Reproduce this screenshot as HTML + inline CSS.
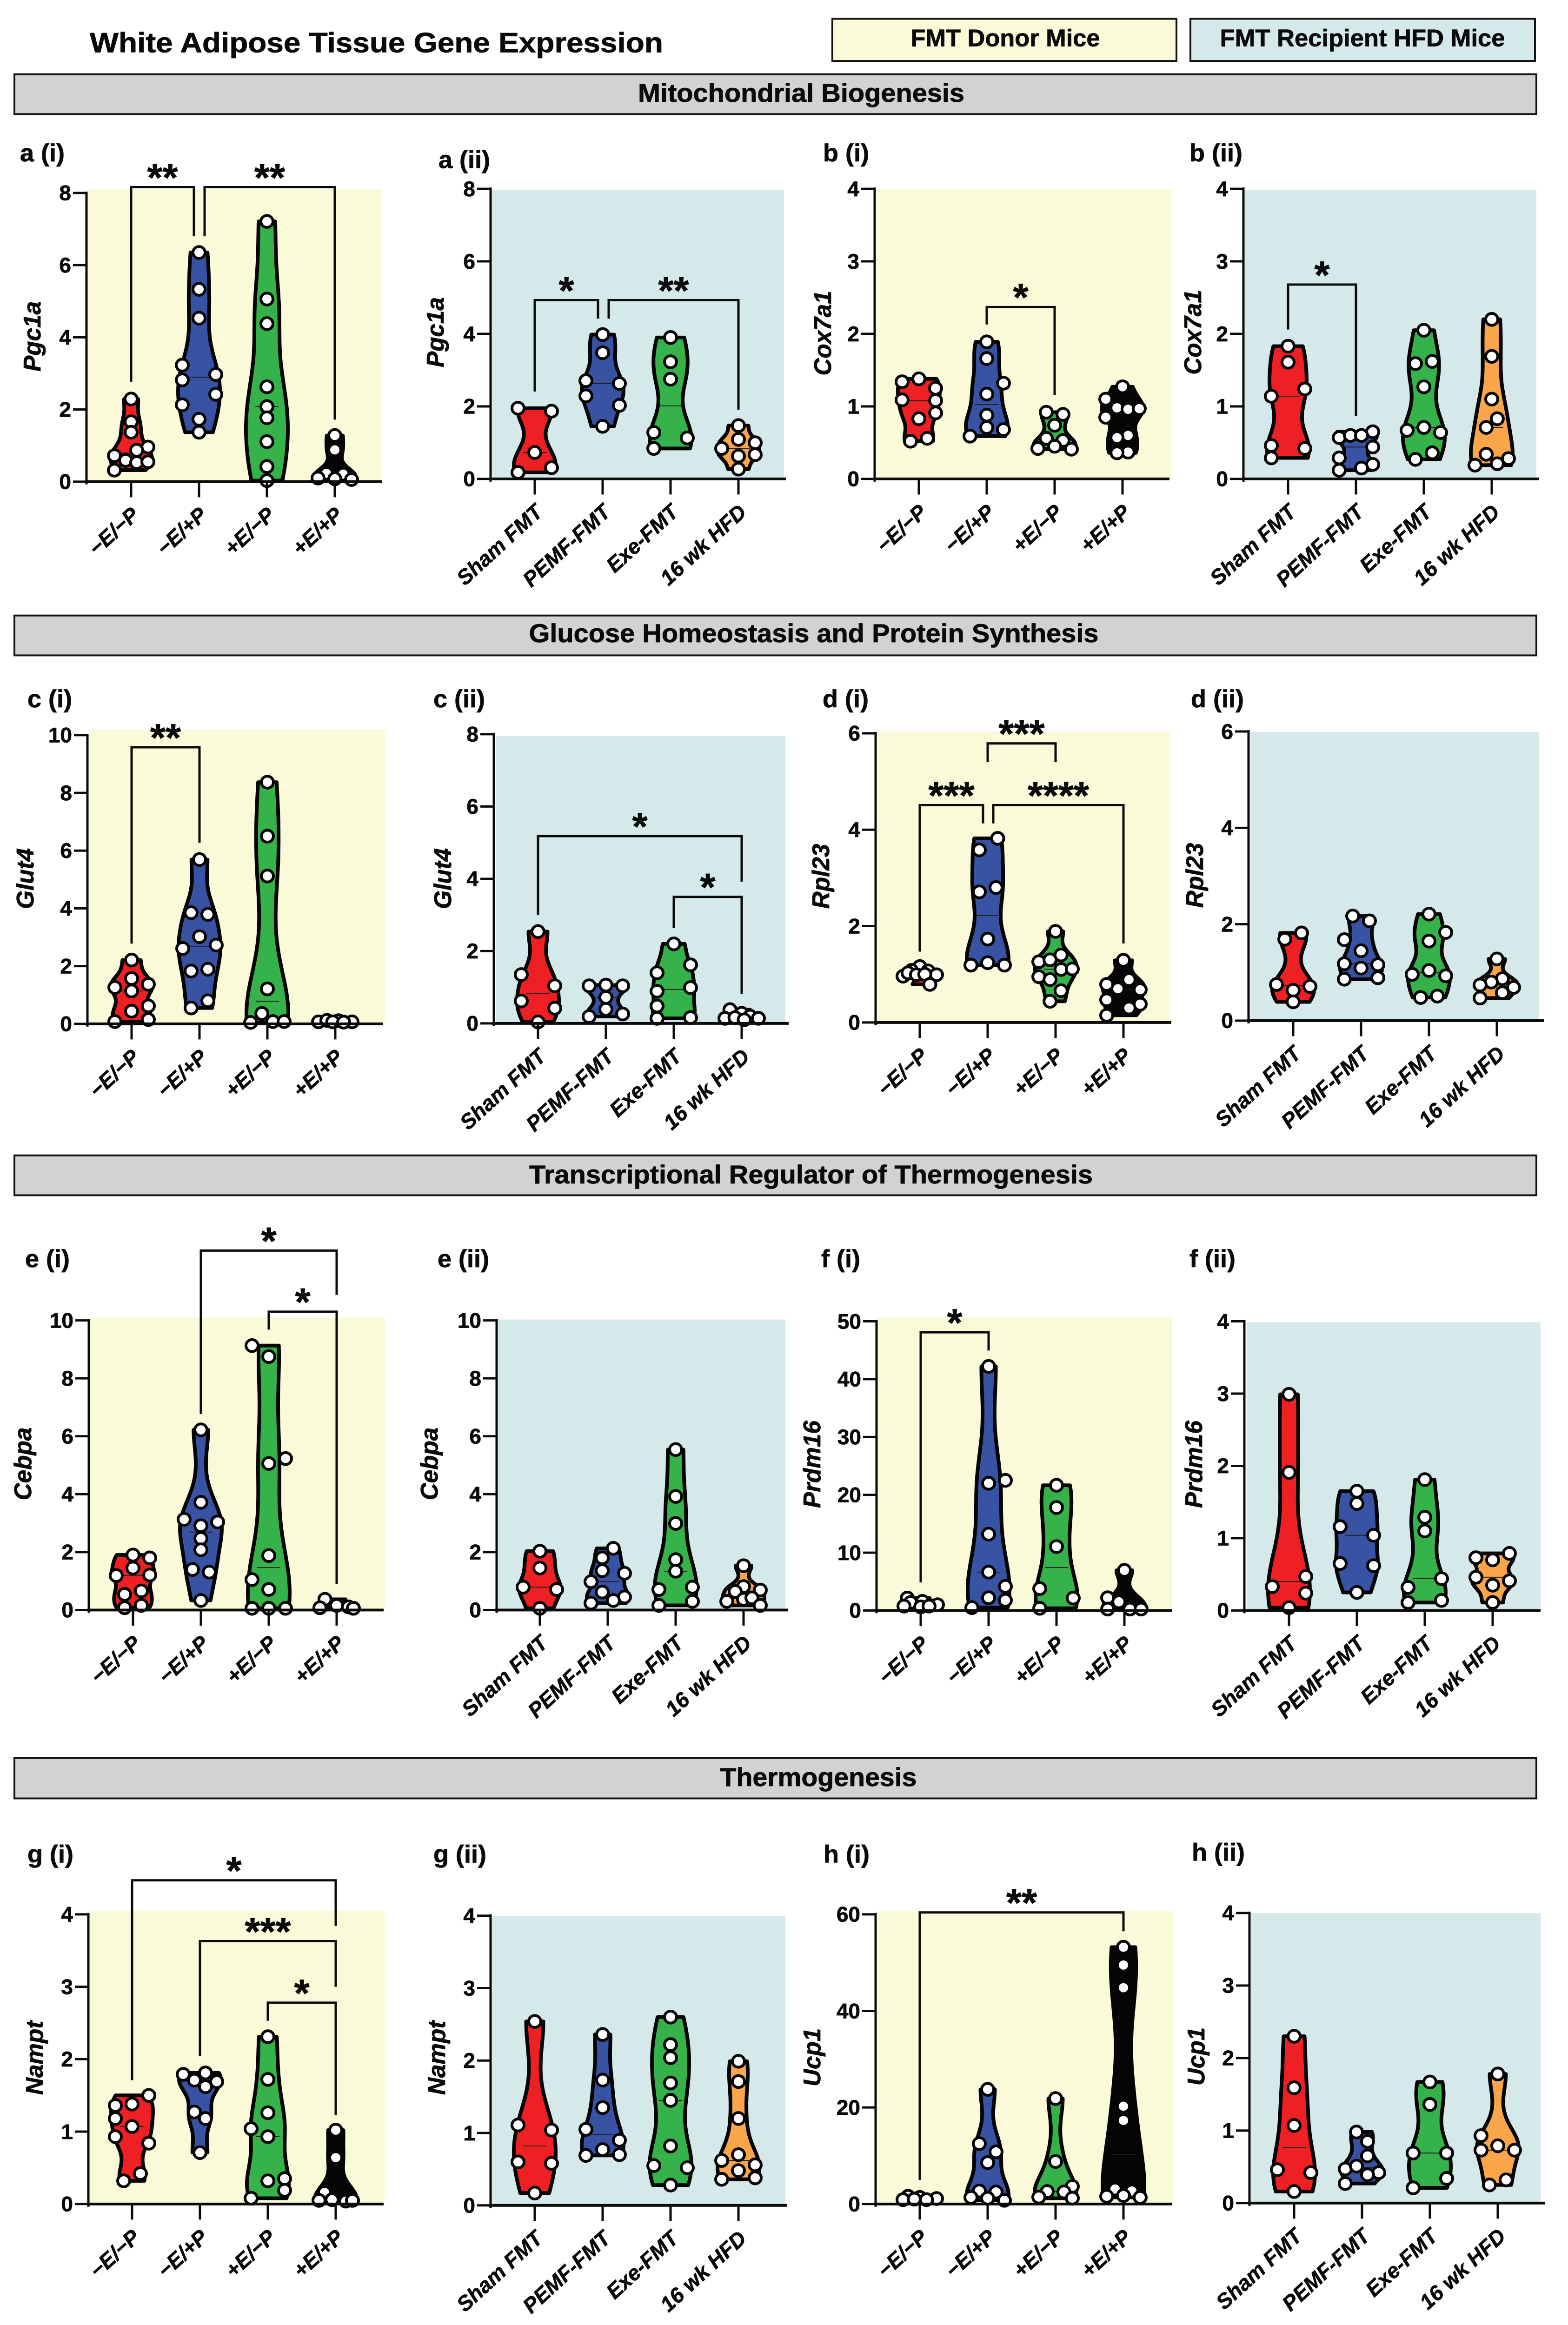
<!DOCTYPE html>
<html lang="en">
<head>
<meta charset="utf-8">
<title>White Adipose Tissue Gene Expression</title>
<style>
html,body{margin:0;padding:0;background:#fff;width:100%;height:100%;overflow:hidden}
svg{display:block;overflow:hidden;width:100vw;height:100vh}
text{font-family:"Liberation Sans",sans-serif;font-weight:700;fill:#0a0a0a;stroke:#0a0a0a;stroke-width:.8px}
</style>
</head>
<body>
<svg id="figure" xmlns="http://www.w3.org/2000/svg" viewBox="0 0 3372 5073" preserveAspectRatio="none">
<rect x="0" y="0" width="3372" height="5073" fill="#ffffff"/>
<text x="193" y="114" font-size="61" textLength="1233" lengthAdjust="spacingAndGlyphs">White Adipose Tissue Gene Expression</text>
<g><rect x="1790" y="41" width="740" height="92" fill="#fafad9" stroke="#111" stroke-width="4"/><text x="2162" y="101" font-size="53" text-anchor="middle" textLength="407" lengthAdjust="spacingAndGlyphs">FMT Donor Mice</text></g>
<g><rect x="2560" y="41" width="741" height="92" fill="#d5e8ea" stroke="#111" stroke-width="4"/><text x="2930" y="101" font-size="53" text-anchor="middle" textLength="613" lengthAdjust="spacingAndGlyphs">FMT Recipient HFD Mice</text></g>
<g><rect x="31" y="162" width="3273" height="87" fill="#d1d2d4" stroke="#111" stroke-width="4"/><text x="1723" y="222" font-size="56" text-anchor="middle" textLength="702" lengthAdjust="spacingAndGlyphs">Mitochondrial Biogenesis</text></g>
<g><rect x="31" y="1343" width="3273" height="87" fill="#d1d2d4" stroke="#111" stroke-width="4"/><text x="1750" y="1401" font-size="56" text-anchor="middle" textLength="1225" lengthAdjust="spacingAndGlyphs">Glucose Homeostasis and Protein Synthesis</text></g>
<g><rect x="31" y="2521" width="3273" height="87" fill="#d1d2d4" stroke="#111" stroke-width="4"/><text x="1744" y="2582" font-size="56" text-anchor="middle" textLength="1212" lengthAdjust="spacingAndGlyphs">Transcriptional Regulator of Thermogenesis</text></g>
<g><rect x="31" y="3836" width="3273" height="88" fill="#d1d2d4" stroke="#111" stroke-width="4"/><text x="1760" y="3897" font-size="56" text-anchor="middle" textLength="423" lengthAdjust="spacingAndGlyphs">Thermogenesis</text></g>
</svg>
<script>
const donorCategories=['−E/−P','−E/+P','+E/−P','+E/+P'];
const recipientCategories=['Sham FMT','PEMF-FMT','Exe-FMT','16 wk HFD'];

const ticks0to8=[0,2,4,6,8];
const ticks0to4=[0,1,2,3,4];
const ticks0to10=[0,2,4,6,8,10];
const ticks0to6=[0,2,4,6];
const ticks0to50=[0,10,20,30,40,50];
const ticks0to60=[0,20,40,60];

/* Expression values per group; swarm = sideways slot of each dot in symbol widths */
const pgc1aDonorValues=[[2.29,1.66,1.37,.96,.87,.72,.59,.53,.55,.32],[6.35,5.33,4.53,3.23,2.97,2.82,2.42,2.13,1.73,1.37],[7.21,5.06,4.38,2.63,2.08,1.77,1.11,.42,.03],[1.28,.88,.23,.21,.1,.08,.06]];
const pgc1aDonorSwarm=[[0,0,0,1,.33,-1,-.33,.33,1,-1],[0,0,0,-1,1,-1,1,-1,0,0],[0,0,0,0,0,0,0,0,0],[0,0,-.5,.5,-1,0,1]];
const pgc1aDonorBrackets=[[0,1,8.16,2.77,6.8,'**',0,-11],[1,3,8.16,6.8,1.72,'**',12,0]];

const pgc1aRecipientValues=[[1.95,1.87,.73,.31,.18],[3.98,3.48,2.71,2.63,2.29,2.03,1.45],[3.9,3.23,2.75,1.28,1.13,.84],[1.47,1.09,1,.84,.67,.63,.27]];
const pgc1aRecipientSwarm=[[-1,1,0,1,-1],[0,0,-1,1,-1,1,0],[0,0,0,-1,1,-1],[0,0,1,-1,1,0,0]];
const pgc1aRecipientBrackets=[[0,1,4.93,2.41,4.42,'*',0,-10],[1,3,4.93,4.42,1.91,'**',13,0]];

const cox7a1DonorValues=[[1.38,1.34,1.25,1.09,1.08,.91,.83,.52,.56],[1.89,1.66,1.32,1.17,.88,.71,.68,.59],[.92,.89,.74,.56,.53,.45,.42,.41],[1.27,1.1,.98,.96,.97,.85,.6,.57,.37,.36]];
const cox7a1DonorSwarm=[[0,-1,1,-1,1,1,0,-.5,.5],[0,0,1,0,0,0,1,-1],[-.5,.5,0,-.5,.5,0,-1,1],[0,-1,-.33,.33,1,-1,.33,-.33,.33,-.33]];
const cox7a1DonorBrackets=[[1,2,2.37,2.13,1.16,'*',0,0]];

const cox7a1RecipientValues=[[1.83,1.61,1.24,1.14,.46,.42,.29],[.65,.57,.6,.6,.44,.29,.2,.15,.12],[2.05,1.59,1.62,1.27,.67,.71,.64,.36,.27],[2.2,1.69,1.1,.83,.71,.34,.28,.19,.21]];
const cox7a1RecipientSwarm=[[0,0,1,-1,-1,1,-1],[1,-1,-.33,.33,1,-1,1,.33,-1],[0,-.5,.5,0,-1,0,1,.5,-.5],[0,0,0,.33,-.33,-.33,1,-1,.33]];
const cox7a1RecipientBrackets=[[0,1,2.68,2.06,.865,'*',0,0]];

const glut4DonorValues=[[2.21,1.57,1.26,1.37,1.14,.62,.44,.08,.15],[5.69,3.85,3.79,3.02,2.73,2.61,1.89,1.83,.8,.55],[8.37,6.5,5.12,1.21,.36,.05,.08,.08],[.07,.12,.11,.07,.07,.06]];
const glut4DonorSwarm=[[0,0,-1,1,0,1,0,-1,1],[0,-.5,.5,0,1,-1,.5,-.5,.5,-.5],[0,0,0,0,-.33,-1,.33,1],[-1,-.5,.2,1,-.15,.5]];
const glut4DonorBrackets=[[0,1,9.58,2.78,6.27,'**',0,0]];

const glut4RecipientValues=[[2.54,1.35,1.04,.62,.42,.04],[1.04,1.06,1.04,.72,.39,.26,.19],[2.2,1.62,1.4,.99,.89,.48,.16,.14],[.38,.28,.2,.14,.16,.1,.14]];
const glut4RecipientSwarm=[[0,-1,1,-1,1,0],[-1,0,1,0,0,1,-1],[0,1,-1,1,-1,-1,1,-1],[-.7,0,.5,-1,-.4,.15,1]];
const glut4RecipientBrackets=[[0,3,5.18,3,3.92,'*',0,0],[2,3,3.5,2.64,.81,'*',0,0]];

const rpl23DonorValues=[[1.16,1.08,1.07,.96,.99,1.03,.99,1,.79],[3.82,3.58,2.8,2.71,1.73,1.24,1.19,1.19],[1.89,1.4,1.26,1.3,1.1,1.11,.95,.89,.66,.44],[1.29,.89,.79,.7,.68,.47,.38,.3,.15]];
const rpl23DonorSwarm=[[0,-.5,.5,-1,1,-.7,-.2,.3,.6],[.6,-.5,.5,-.5,0,0,-1,1],[0,.33,-1,-.33,.33,1,-1,-.33,.33,-.33],[0,.33,-1,-.33,1,-1,1,.33,-1]];
const rpl23DonorBrackets=[[1,2,5.79,5.4,5.4,'***',0,0],[0,1,4.51,1.47,4.13,'***',0,-10],[1,3,4.51,4.13,1.64,'****',12,0]];

const rpl23RecipientValues=[[1.82,1.69,.75,.71,.63,.39],[2.17,2.07,1.68,1.45,1.18,1.16,1.09,.86,.89],[2.21,1.83,1.65,1.04,.96,.93,.48,.51],[1.28,.87,.8,.74,.69,.58,.47]];
const rpl23RecipientSwarm=[[.5,-.5,-1,1,0,0],[-.5,.5,-1,0,-1,1,0,-1,1],[0,1,0,0,-1,1,-.5,.5],[0,.33,-.33,-1,1,.33,-1]];
const rpl23RecipientBrackets=[];

const cebpaDonorValues=[[1.9,1.8,1.45,1.19,1.21,.66,.54,.16,.08],[6.22,3.72,3.13,3.04,2.91,2.47,2.08,1.4,1.31,.33],[9.13,8.75,5.23,5.06,1.88,1.05,.71,.06,.06,.06],[.37,.16,.11,.08,.06]];
const cebpaDonorSwarm=[[0,1,0,-1,1,.5,-.5,.5,-.5],[0,0,-1,1,0,0,0,-.5,.5,0],[-1,0,1,0,0,-1,0,-1,0,1],[-.7,0,.7,-1,1]];
const cebpaDonorBrackets=[[1,3,12.41,6.77,10.88,'*',0,0],[2,3,10.3,9.68,.9,'*',0,0]];

const cebpaRecipientValues=[[2.03,1.45,.79,.71,.06],[2.13,1.8,1.36,1.27,.98,.62,.45,.33,.24],[5.54,3.92,2.99,1.74,1.34,.71,.79,.3,.16],[1.53,.81,.3,.64,.69,.37,.42,.16]];
const cebpaRecipientSwarm=[[0,0,-1,1,0],[.33,-.33,-.33,1,-1,-.33,1,.33,-1],[0,0,0,0,0,-1,1,1,-1],[0,0,-1,-.5,1,0,.5,1]];
const cebpaRecipientBrackets=[];

const prdm16DonorValues=[[2.15,1.39,1.58,1,.76,.63,.76],[42.2,22.5,22,13.2,6.63,4.17,2.2,1.77,.5],[21.65,17.8,11.05,3.79,2.15,.38],[6.94,2.2,1.5,.25,.25,.25]];
const prdm16DonorSwarm=[[-.8,-.6,.1,1,-1,0,.5],[0,1,0,0,0,1,0,1,-1],[0,0,0,-1,1,-1],[0,-1,-.33,-1,.33,1]];
const prdm16DonorBrackets=[[0,1,48.1,4.86,44.95,'*',0,0]];

const prdm16RecipientValues=[[2.99,1.91,.47,.33,.24,.04],[1.65,1.48,1.16,1.04,.65,.62,.25],[1.81,1.29,1.1,.44,.32,.14,.11],[.73,.79,.7,.46,.41,.35,.11]];
const prdm16RecipientSwarm=[[0,0,1,-1,1,0],[0,0,-1,1,-1,1,0],[0,0,0,1,-1,1,-1],[-1,1,0,-1,1,0,0]];
const prdm16RecipientBrackets=[];

const namptDonorValues=[[1.5,1.36,1.38,1.18,1.07,.93,.84,.42,.32],[1.79,1.81,1.71,1.69,1.62,1.27,1.18,.71],[2.31,1.72,1.26,1.04,.93,.35,.32,.19,.08],[1.02,.64,.16,.05,.06,.04,.05]];
const namptDonorSwarm=[[1,-1,0,-1,0,-1,1,.5,-.5],[-1,.33,-.33,1,.33,-.33,.33,0],[0,0,0,-1,0,1,0,1,-1],[0,0,-.67,-1,-.22,.6,1]];
const namptDonorBrackets=[[0,3,4.47,1.71,3.84,'*',0,0],[1,3,3.63,2.04,3,'***',0,0],[2,3,2.78,2.53,1.23,'*',0,0]];

const namptRecipientValues=[[2.54,1.11,1.04,.6,.58,.17],[2.36,1.73,1.35,1.05,.9,.77,.69,.7],[2.6,2.22,2.04,1.69,1.45,.82,.55,.52,.28],[1.99,1.71,1.2,.7,.62,.56,.48,.36,.38]];
const namptRecipientSwarm=[[0,-1,1,-1,1,0],[0,0,0,-1,1,0,-1,1],[0,0,0,0,0,0,-1,1,0],[0,0,0,0,-1,1,0,-1,1]];
const namptRecipientBrackets=[];

const ucp1DonorValues=[[1.6,1.37,.9,1.14,1,.9],[23.75,12.5,10.8,8.57,2.7,2.5,1.37,1.2,.76],[21.85,8.8,3.64,2.58,2.5,1.44,1.2],[53.2,49.5,44.8,20.26,17.3,3.1,2.7,1.75,1.6,1.37]];
const ucp1DonorSwarm=[[-.7,0,-1,1,-.33,.4],[0,-.5,.5,0,-.5,.5,-1,0,1],[0,0,1,-.5,.5,-1,1],[0,0,0,0,0,-.5,.5,0,-1,1]];
const ucp1DonorBrackets=[[0,3,60.4,5,56.5,'**',0,0]];

const ucp1RecipientValues=[[2.3,1.59,1.07,.46,.42,.16],[.98,.85,.65,.47,.51,.42,.39,.27],[1.67,1.36,.69,.69,.34,.21],[1.78,.93,.79,.73,.73,.32,.25]];
const ucp1RecipientSwarm=[[0,0,0,-1,1,0],[-.33,.33,.33,-1,-.33,1,.33,-1],[0,0,-1,1,1,-1],[0,-1,0,-1,1,.5,-.5]];
const ucp1RecipientBrackets=[];

const donorFills=['#ee2024','#3953a4','#35b34a','#050505'];
const recipientFills=['#ee2024','#3953a4','#35b34a','#f9a54a'];

const panels=[
{id:'a-i',label:'a (i)',gene:'Pgc1a',cats:donorCategories,fills:donorFills,vals:pgc1aDonorValues,swarm:pgc1aDonorSwarm,br:pgc1aDonorBrackets,ticks:ticks0to8,ax:186,top:421,y0:1051,bg:[190,412,822],x0:282,xEnd:822,lab:[43,352],ttl:[87,734],shade:'#fafad9'},
{id:'a-ii',label:'a (ii)',gene:'Pgc1a',cats:recipientCategories,fills:recipientFills,vals:pgc1aRecipientValues,swarm:pgc1aRecipientSwarm,br:pgc1aRecipientBrackets,ticks:ticks0to8,ax:1055,top:412,y0:1045,bg:[1058,414,1686],x0:1150,xEnd:1690,lab:[943,367],ttl:[954,725],shade:'#d5e8ea'},
{id:'b-i',label:'b (i)',gene:'Cox7a1',cats:donorCategories,fills:donorFills,vals:cox7a1DonorValues,swarm:cox7a1DonorSwarm,br:cox7a1DonorBrackets,ticks:ticks0to4,ax:1881,top:412,y0:1045,bg:[1885,412,2519],x0:1976,xEnd:2515,lab:[1770,352],ttl:[1787,727],shade:'#fafad9'},
{id:'b-ii',label:'b (ii)',gene:'Cox7a1',cats:recipientCategories,fills:recipientFills,vals:cox7a1RecipientValues,swarm:cox7a1RecipientSwarm,br:cox7a1RecipientBrackets,ticks:ticks0to4,ax:2674,top:412,y0:1045,bg:[2678,414,3304],x0:2770,xEnd:3310,lab:[2558,352],ttl:[2583,725],shade:'#d5e8ea'},
{id:'c-i',label:'c (i)',gene:'Glut4',cats:donorCategories,fills:donorFills,vals:glut4DonorValues,swarm:glut4DonorSwarm,br:glut4DonorBrackets,ticks:ticks0to10,ax:188,top:1604,y0:2234,bg:[191,1592,829],x0:283,xEnd:824,lab:[59,1543],ttl:[72,1917],shade:'#fafad9'},
{id:'c-ii',label:'c (ii)',gene:'Glut4',cats:recipientCategories,fills:recipientFills,vals:glut4RecipientValues,swarm:glut4RecipientSwarm,br:glut4RecipientBrackets,ticks:ticks0to8,ax:1062,top:1602,y0:2233,bg:[1067,1606,1689],x0:1157,xEnd:1696,lab:[932,1543],ttl:[970,1917],shade:'#d5e8ea'},
{id:'d-i',label:'d (i)',gene:'Rpl23',cats:donorCategories,fills:donorFills,vals:rpl23DonorValues,swarm:rpl23DonorSwarm,br:rpl23DonorBrackets,ticks:ticks0to6,ax:1883,top:1600,y0:2231,bg:[1887,1596,2516],x0:1978,xEnd:2519,lab:[1769,1543],ttl:[1783,1912],shade:'#fafad9'},
{id:'d-ii',label:'d (ii)',gene:'Rpl23',cats:recipientCategories,fills:recipientFills,vals:rpl23RecipientValues,swarm:rpl23RecipientSwarm,br:rpl23RecipientBrackets,ticks:ticks0to6,ax:2685,top:1596,y0:2227,bg:[2689,1598,3310],x0:2781,xEnd:3320,lab:[2561,1543],ttl:[2587,1910],shade:'#d5e8ea'},
{id:'e-i',label:'e (i)',gene:'Cebpa',cats:donorCategories,fills:donorFills,vals:cebpaDonorValues,swarm:cebpaDonorSwarm,br:cebpaDonorBrackets,ticks:ticks0to10,ax:191,top:2881,y0:3513,bg:[193,2875,829],x0:286,xEnd:825,lab:[54,2765],ttl:[67,3194],shade:'#fafad9'},
{id:'e-ii',label:'e (ii)',gene:'Cebpa',cats:recipientCategories,fills:recipientFills,vals:cebpaRecipientValues,swarm:cebpaRecipientSwarm,br:cebpaRecipientBrackets,ticks:ticks0to10,ax:1068,top:2881,y0:3513,bg:[1071,2879,1689],x0:1161,xEnd:1695,lab:[941,2765],ttl:[941,3194],shade:'#d5e8ea'},
{id:'f-i',label:'f (i)',gene:'Prdm16',cats:donorCategories,fills:donorFills,vals:prdm16DonorValues,swarm:prdm16DonorSwarm,br:prdm16DonorBrackets,ticks:ticks0to50,ax:1885,top:2883,y0:3514,bg:[1889,2875,2521],x0:1980,xEnd:2521,lab:[1766,2765],ttl:[1764,3195],shade:'#fafad9'},
{id:'f-ii',label:'f (ii)',gene:'Prdm16',cats:recipientCategories,fills:recipientFills,vals:prdm16RecipientValues,swarm:prdm16RecipientSwarm,br:prdm16RecipientBrackets,ticks:ticks0to4,ax:2676,top:2883,y0:3514,bg:[2681,2885,3313],x0:2772,xEnd:3313,lab:[2558,2765],ttl:[2585,3195],shade:'#d5e8ea'},
{id:'g-i',label:'g (i)',gene:'Nampt',cats:donorCategories,fills:donorFills,vals:namptDonorValues,swarm:namptDonorSwarm,br:namptDonorBrackets,ticks:ticks0to4,ax:190,top:4177,y0:4809,bg:[193,4169,827],x0:284,xEnd:825,lab:[59,4064],ttl:[92,4490],shade:'#fafad9'},
{id:'g-ii',label:'g (ii)',gene:'Nampt',cats:recipientCategories,fills:recipientFills,vals:namptRecipientValues,swarm:namptRecipientSwarm,br:namptRecipientBrackets,ticks:ticks0to4,ax:1055,top:4180,y0:4812,bg:[1058,4181,1689],x0:1150,xEnd:1692,lab:[932,4064],ttl:[957,4490],shade:'#d5e8ea'},
{id:'h-i',label:'h (i)',gene:'Ucp1',cats:donorCategories,fills:donorFills,vals:ucp1DonorValues,swarm:ucp1DonorSwarm,br:ucp1DonorBrackets,ticks:ticks0to60,ax:1883,top:4177,y0:4809,bg:[1887,4169,2523],x0:1978,xEnd:2521,lab:[1771,4064],ttl:[1764,4489],shade:'#fafad9'},
{id:'h-ii',label:'h (ii)',gene:'Ucp1',cats:recipientCategories,fills:recipientFills,vals:ucp1RecipientValues,swarm:ucp1RecipientSwarm,br:ucp1RecipientBrackets,ticks:ticks0to4,ax:2687,top:4174,y0:4807,bg:[2690,4174,3313],x0:2783,xEnd:3322,lab:[2563,4060],ttl:[2590,4487],shade:'#d5e8ea'}
];

const NS='http://www.w3.org/2000/svg';
const STEP=146, SLOT=36, HALF_WIDTH=45, NECK=8, BW=0.62, MEDIAN_HALF=25;
const root=document.getElementById('figure');

function make(tag,attrs,parent,txt){
  const el=document.createElementNS(NS,tag);
  for(const k in attrs){el.setAttribute(k,attrs[k]);}
  if(txt!==undefined){el.textContent=txt;}
  parent.appendChild(el);
  return el;
}
function median(a){
  const s=[...a].sort((p,q)=>p-q),n=s.length;
  return n%2?s[(n-1)/2]:(s[n/2-1]+s[n/2])/2;
}
function violinOutline(values,cx,y){
  const n=values.length,lo=Math.min(...values),hi=Math.max(...values);
  const mean=values.reduce((a,b)=>a+b,0)/n;
  const sd=Math.sqrt(values.reduce((a,b)=>a+(b-mean)*(b-mean),0)/Math.max(1,n-1))||1;
  const h=BW*1.06*sd*Math.pow(n,-0.2);
  const N=48,dens=[];
  for(let i=0;i<=N;i++){
    const v=lo+(hi-lo)*i/N;
    dens.push([v,values.reduce((a,x)=>a+Math.exp(-0.5*((v-x)/h)*((v-x)/h)),0)]);
  }
  const peak=Math.max(...dens.map(d=>d[1]));
  const w=function(d){return NECK+(HALF_WIDTH-NECK)*d/peak;};
  const right=dens.map(d=>(cx+w(d[1])).toFixed(1)+','+y(d[0]).toFixed(1));
  const left=dens.slice().reverse().map(d=>(cx-w(d[1])).toFixed(1)+','+y(d[0]).toFixed(1));
  return 'M'+right.concat(left).join('L')+'Z';
}

panels.forEach(function(p){
  const yMax=p.ticks[p.ticks.length-1];
  const y=function(v){return p.y0-(v/yMax)*(p.y0-p.top);};
  const x=function(i){return p.x0+i*STEP;};

  const g=make('g',{},root);
  
  

  const bg=make('rect',{x:p.bg[0],y:p.bg[1],width:p.bg[2]-p.bg[0],height:p.y0-p.bg[1],fill:p.shade},g);
  
  

  const lab=make('text',{x:p.lab[0],y:p.lab[1],'font-size':54},g,p.label);
  
  

  const ttl=make('text',{transform:'translate('+p.ttl[0]+','+p.ttl[1]+') rotate(-90)','text-anchor':'middle','font-size':52,'font-style':'italic'},g,p.gene);
  
  

  p.vals.forEach(function(vals,i){
    const v=make('path',{d:violinOutline(vals,x(i),y),fill:p.fills[i],stroke:'#050505','stroke-width':8,'stroke-linejoin':'round'},g);
    
    

    const m=make('line',{x1:x(i)-MEDIAN_HALF,x2:x(i)+MEDIAN_HALF,y1:y(median(vals)),y2:y(median(vals)),stroke:'#222','stroke-width':2},g);
    
    

    vals.forEach(function(val,k){
      const c=make('circle',{cx:x(i)+p.swarm[i][k]*SLOT,cy:y(val),r:13,fill:'#fff',stroke:'#050505','stroke-width':6},g);
      
      
    });
  });

  const ya=make('line',{x1:p.ax,x2:p.ax,y1:p.top-3,y2:p.y0+6,stroke:'#0a0a0a','stroke-width':5},g);
  
  

  const xa=make('line',{x1:p.ax-3,x2:p.xEnd,y1:p.y0,y2:p.y0,stroke:'#0a0a0a','stroke-width':6},g);
  
  

  p.ticks.forEach(function(t){
    const tm=make('line',{x1:p.ax-29,x2:p.ax,y1:y(t),y2:y(t),stroke:'#0a0a0a','stroke-width':5},g);
    
    
    const tl=make('text',{x:p.ax-33,y:y(t)+16,'text-anchor':'end','font-size':46},g,String(t));
    
    
  });

  p.cats.forEach(function(name,i){
    const tm=make('line',{x1:x(i),x2:x(i),y1:p.y0,y2:p.y0+34,stroke:'#0a0a0a','stroke-width':5},g);
    
    
    const tl=make('text',{transform:'translate('+(x(i)+20)+','+(p.y0+76)+') rotate(-43)','text-anchor':'end','font-size':46,'font-style':'italic'},g,name);
    
    
  });

  p.br.forEach(function(b){
    const xa1=x(b[0])+b[6],xb1=x(b[1])+b[7],top=y(b[2]);
    const br=make('path',{d:'M'+xa1+','+y(b[3])+'V'+top+'H'+xb1+'V'+y(b[4]),fill:'none',stroke:'#0a0a0a','stroke-width':5},g);
    
    
    const st=make('text',{x:(xa1+xb1)/2,y:top-41+49,'text-anchor':'middle','font-size':85},g,b[5]);
    
    
  });
});
</script>
</body>
</html>
